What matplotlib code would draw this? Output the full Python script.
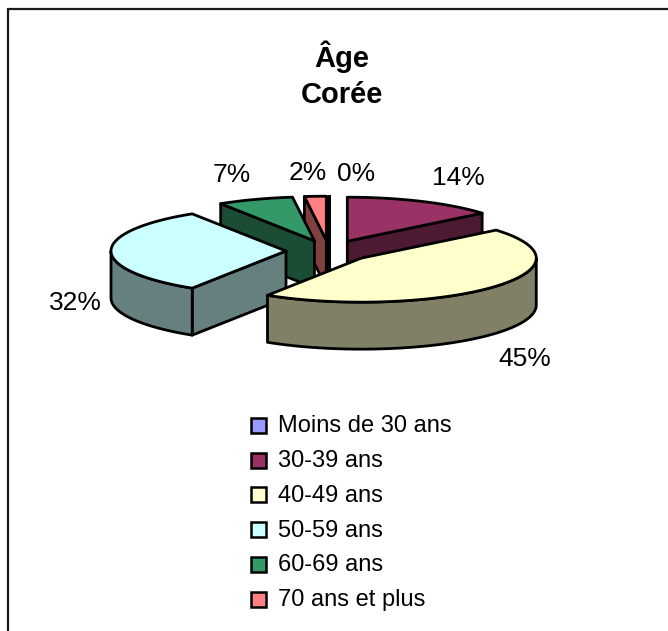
import numpy as np
import matplotlib
matplotlib.use("Agg")
from matplotlib import pyplot as plt
from matplotlib.patches import Polygon, Rectangle

categories = ["Moins de 30 ans", "30-39 ans", "40-49 ans", "50-59 ans", "60-69 ans", "70 ans et plus"]
values = [0, 14, 45, 32, 7, 2]
pct_labels = ["0%", "14%", "45%", "32%", "7%", "2%"]
top_colors = ["#9999FF", "#993366", "#FFFFCC", "#CCFFFF", "#339966", "#FF8080"]
side_colors = ["#4D4D80", "#4D1A33", "#808066", "#668080", "#1A4D33", "#804040"]

# where the labels sit, in pixels (centre of text)
label_pos = [(356, 174), (458, 178), (525, 359), (75, 303), (232, 175), (308, 173)]

plt.rcParams["font.family"] = ["Liberation Sans", "DejaVu Sans"]

# pie geometry in pixels
cx, cy = 329, 251
rx, ry = 175, 44
depth = 47
explode = 43

fig = plt.figure(figsize=(6.68, 6.31), dpi=100)
ax = fig.add_axes([0, 0, 1, 1])
ax.set_xlim(0, 668)
ax.set_ylim(631, 0)
ax.axis("off")

# chart frame, right and bottom are cut off by the crop
ax.plot([7.5, 7.5, 668], [631, 9, 9], color="#1a1a1a", lw=1.6, solid_joinstyle="miter")


def rim(x0, y0, t):
    return np.column_stack([x0 + rx * np.sin(t), y0 - ry * np.cos(t)])


def draw_slice(start, end, top, side, z):
    mid = (start + end) / 2
    x0 = cx + explode * np.sin(mid)
    y0 = cy - explode * (ry / rx) * np.cos(mid)
    style = dict(edgecolor="black", lw=2.0, joinstyle="round", zorder=z)
    drop = np.array([0, depth])

    # walls on the straight edges, only those facing the viewer
    for t, visible in ((start, np.sin(start) < 1e-9), (end, np.sin(end) > -1e-9)):
        if visible:
            p = rim(x0, y0, np.array([t]))[0]
            quad = [(x0, y0), p, p + drop, (x0, y0 + depth)]
            ax.add_patch(Polygon(quad, closed=True, facecolor=side, **style))

    # outer wall, front half of the ellipse
    a, b = max(start, np.pi / 2), min(end, 3 * np.pi / 2)
    if b > a:
        arc = rim(x0, y0, np.linspace(a, b, 80))
        ax.add_patch(Polygon(np.vstack([arc, arc[::-1] + drop]), closed=True, facecolor=side, **style))

    # top face
    arc = rim(x0, y0, np.linspace(start, end, 80))
    ax.add_patch(Polygon(np.vstack([[(x0, y0)], arc]), closed=True, facecolor=top, **style))


fractions = np.array(values) / sum(values)
edges = np.concatenate([[0], np.cumsum(fractions)]) * 2 * np.pi

# paint back to front
centre_y = [-np.cos((edges[i] + edges[i + 1]) / 2) * (explode + rx / 2) for i in range(len(values))]
for z, i in enumerate(np.argsort(centre_y)):
    draw_slice(edges[i], edges[i + 1], top_colors[i], side_colors[i], 3 + z)

for (x, y), s in zip(label_pos, pct_labels):
    ax.text(x, y, s, fontsize=19, ha="center", va="center", color="black", zorder=20)

ax.text(342, 57, "Âge", fontsize=21, fontweight="bold", ha="center", va="center")
ax.text(342, 95, "Corée", fontsize=21, fontweight="bold", ha="center", va="center")

# legend
for i, name in enumerate(categories):
    y = 425.5 + i * 34.7
    ax.add_patch(Rectangle((250.5, y - 7.5), 15, 15, facecolor=top_colors[i], edgecolor="black", lw=1.8))
    ax.text(278, y + 1, name, fontsize=17, ha="left", va="center", color="black")

fig.savefig("out.png", dpi=100)
